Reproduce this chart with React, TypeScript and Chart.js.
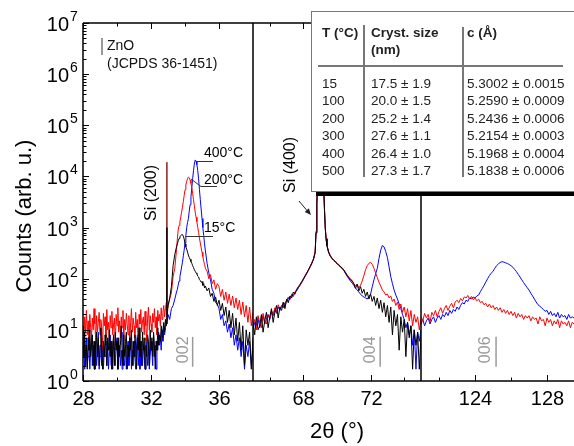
import React, { useEffect, useRef } from 'react';
import { Chart, registerables } from 'chart.js';
Chart.register(...registerables);

const FONT = '"Liberation Sans", Arial, Helvetica, sans-serif';

// ---------- Panel 1 (2θ 28–38) ----------
const P1X = [
  28.0, 28.05, 28.1, 28.15, 28.2, 28.25, 28.3, 28.35, 28.4, 28.45,
  28.5, 28.55, 28.6, 28.65, 28.7, 28.75, 28.8, 28.85, 28.9, 28.95,
  29.0, 29.05, 29.1, 29.15, 29.2, 29.25, 29.3, 29.35, 29.4, 29.45,
  29.5, 29.55, 29.6, 29.65, 29.7, 29.75, 29.8, 29.85, 29.9, 29.95,
  30.0, 30.05, 30.1, 30.15, 30.2, 30.25, 30.3, 30.35, 30.4, 30.45,
  30.5, 30.55, 30.6, 30.65, 30.7, 30.75, 30.8, 30.85, 30.9, 30.95,
  31.0, 31.05, 31.1, 31.15, 31.2, 31.25, 31.3, 31.35, 31.4, 31.45,
  31.5, 31.55, 31.6, 31.65, 31.7, 31.75, 31.8, 31.85, 31.9, 31.95,
  32.0, 32.05, 32.1, 32.15, 32.2, 32.25, 32.3, 32.35, 32.4, 32.45,
  32.5, 32.55, 32.6, 32.65, 32.7, 32.75, 32.8, 32.85, 32.9, 32.95,
  33.0, 33.1, 33.2, 33.3, 33.4,
  33.5, 33.55, 33.6, 33.65, 33.7, 33.75, 33.8, 33.85, 33.9, 33.95,
  34.0, 34.05, 34.1, 34.15, 34.2, 34.25, 34.3, 34.35, 34.4, 34.45,
  34.5, 34.55, 34.6, 34.65, 34.7, 34.75, 34.8, 34.85, 34.9, 34.95,
  35.0, 35.05, 35.1, 35.15, 35.2,
  35.3, 35.4, 35.5, 35.6, 35.7, 35.8, 35.9,
  36.0, 36.1, 36.2, 36.3, 36.4, 36.5, 36.6, 36.7, 36.8, 36.9,
  37.0, 37.1, 37.2, 37.3, 37.4, 37.5, 37.6, 37.7, 37.8, 37.9, 38.0,
];
const BLACK_P1 = [
  6, 3, 9, 2, 5, 1.7, 7, 4, 10, 3,
  5, 8, 2, 6, 1.7, 4, 9, 3, 7, 2,
  5, 11, 4, 1.7, 6, 3, 8, 5, 2, 7,
  4, 10, 3, 6, 1.7, 5, 8, 2, 9, 4,
  6, 1.7, 7, 3, 5, 12, 4, 2, 8, 3,
  6, 9, 1.7, 5, 3, 7, 4, 10, 2, 6,
  3, 8, 5, 1.7, 7, 4, 11, 3, 6, 2,
  9, 4, 7, 1.7, 5, 3, 8, 6, 2, 10,
  4, 7, 3, 9, 5, 1.7, 6, 4, 11, 5,
  8, 6, 12, 7, 10, 14, 9, 16, 12, 18,
  30, 42, 70, 180, 300,
  420, 480, 550, 610, 660, 700, 720, 730, 680, 600,
  480, 420, 380, 330, 290, 260, 240, 215, 200, 180,
  165, 150, 140, 130, 125, 112, 108, 96, 92, 85,
  88, 74, 80, 66, 72,
  58, 66, 45, 52, 36, 44, 30,
  38, 24, 33, 19, 28, 14, 24, 11, 21, 8,
  17, 6, 14, 4, 12, 2, 10, 5, 9, 1.7, 7,
];
const RED_P1 = [
  12, 6, 18, 9, 24, 8, 15, 5, 20, 11,
  7, 17, 10, 26, 13, 6, 19, 9, 14, 22,
  8, 16, 11, 4, 21, 12, 18, 7, 25, 10,
  14, 6, 19, 11, 23, 8, 13, 17, 5, 20,
  12, 27, 9, 15, 7, 18, 11, 24, 6, 16,
  10, 21, 13, 8, 19, 5, 14, 26, 9, 17,
  12, 7, 22, 11, 16, 4, 20, 13, 25, 9,
  15, 18, 8, 23, 12, 6, 17, 28, 10, 19,
  13, 9, 21, 14, 26, 11, 18, 8, 24, 15,
  20, 12, 27, 16, 22, 30, 18, 26, 34, 24,
  28, 40, 53, 110, 160,
  370, 600, 900, 1100, 1300, 1600, 2000, 2500, 3200, 4200,
  5500, 6800, 8000, 9000, 9700, 9400, 8500, 7300, 6000, 4700,
  3500, 2700, 2000, 1600, 1300, 1000, 800, 620, 500, 400,
  330, 270, 220, 190, 160,
  140, 100, 120, 80, 95, 62, 80,
  70, 45, 62, 38, 55, 33, 50, 30, 46, 27,
  42, 25, 38, 20, 35, 18, 30, 14, 28, 12, 22,
];
const BLUE_P1 = [
  3, 5, 1.7, 4, 7, 2, 3, 6, 1.7, 4,
  8, 2, 5, 1.7, 3, 6, 2, 4, 9, 1.7,
  3, 5, 2, 7, 1.7, 4, 3, 6, 2, 5,
  1.7, 4, 8, 2, 3, 1.7, 6, 4, 2, 5,
  7, 1.7, 3, 5, 2, 4, 1.7, 9, 3, 2,
  5, 1.7, 4, 6, 2, 3, 7, 1.7, 4, 2,
  6, 3, 1.7, 5, 8, 2, 4, 1.7, 3, 6,
  2, 5, 3, 1.7, 7, 4, 2, 5, 1.7, 3,
  6, 4, 2, 8, 3, 5, 1.7, 6, 4, 9,
  5, 7, 4, 10, 6, 12, 8, 11, 15, 13,
  20, 16, 26, 30, 40,
  55, 62, 75, 90, 110, 135, 170, 210, 280, 360,
  500, 700, 1000, 1250, 1500, 2100, 2800, 4000, 6000, 9000,
  13000, 17500, 21000, 20000, 17000, 13000, 9000, 5500, 3500, 2300,
  1500, 1000, 700, 480, 350,
  200, 130, 95, 62, 52, 34, 32,
  26, 16, 20, 12, 15, 9, 13, 7, 11, 5,
  8, 4, 7, 3, 6, 1.7, 5, 3, 6, 2, 4,
];
// Si (200) forbidden-reflection spike
const SPIKE_X = [32.92, 32.93, 32.94];
const SPIKE_MAROON = [15, 19000, 15];
const SPIKE_BLACK = [18, 1000, 25];

// ---------- Panel 2 (2θ 65–75) ----------
const P2X = [
  65.0, 65.1, 65.2, 65.3, 65.4, 65.5, 65.6, 65.7, 65.8, 65.9,
  66.0, 66.1, 66.2, 66.3, 66.4, 66.5, 66.6, 66.7, 66.8, 66.9,
  67.0, 67.1, 67.2, 67.3, 67.4, 67.5, 67.6, 67.7, 67.8, 67.9,
  68.0, 68.1, 68.2, 68.3, 68.4, 68.5, 68.6, 68.7,
  68.75, 68.8, 68.85, 68.9, 68.95, 69.0, 69.05, 69.1, 69.15, 69.2, 69.25, 69.3, 69.35, 69.4,
  69.5, 69.6, 69.7, 69.8, 69.9,
  70.0, 70.1, 70.2, 70.3, 70.4, 70.5, 70.6, 70.7, 70.8, 70.9,
  71.0, 71.1, 71.2, 71.3, 71.4, 71.5, 71.6, 71.7, 71.8, 71.9,
  72.0, 72.1, 72.2, 72.3, 72.4, 72.5, 72.6, 72.7, 72.8, 72.9,
  73.0, 73.1, 73.2, 73.3, 73.4, 73.5, 73.6, 73.7, 73.8, 73.9,
  74.0, 74.1, 74.2, 74.3, 74.4, 74.5, 74.6, 74.7, 74.8, 74.9,
  75.0,
];
const BLACK_P2 = [
  14, 8, 18, 10, 12, 20, 9, 15, 22, 11,
  18, 26, 14, 22, 30, 17, 28, 24, 35, 26,
  40, 34, 46, 42, 55, 50, 62, 70, 78, 88,
  100, 115, 130, 150, 175, 200, 240, 330,
  800, 3000, 8000, 20000, 50000, 100000, 120000, 80000, 30000, 8000, 2500, 1000, 600, 450,
  330, 280, 250, 230, 215,
  200, 185, 175, 160, 150, 130, 115, 105, 95, 90,
  80, 65, 78, 58, 70, 52, 62, 45, 55, 40,
  50, 36, 45, 30, 42, 26, 38, 22, 34, 18,
  30, 14, 28, 8, 24, 12, 20, 4, 18, 9,
  16, 3, 14, 7, 12, 1.7, 10, 5, 9, 1.7,
  8,
];
const RED_P2 = [
  12, 16, 10, 19, 14, 11, 21, 15, 13, 19,
  17, 24, 20, 27, 22, 31, 25, 29, 33, 28,
  38, 44, 40, 50, 47, 56, 60, 68, 75, 85,
  98, 112, 128, 148, 170, 205, 245, 340,
  850, 3200, 8500, 21000, 52000, 105000, 125000, 82000, 31000, 8200, 2600, 1050, 620, 460,
  340, 285, 255, 232, 218,
  205, 190, 172, 165, 148, 135, 120, 108, 100, 92,
  80, 72, 78, 66, 75, 90, 115, 150, 180, 200,
  210, 190, 160, 130, 105, 85, 72, 60, 55, 48,
  50, 42, 46, 36, 40, 30, 35, 25, 32, 22,
  28, 18, 26, 15, 24, 12, 20, 14, 18, 10,
  16,
];
const BLUE_P2 = [
  10, 14, 12, 17, 11, 15, 19, 13, 16, 20,
  16, 22, 19, 25, 21, 28, 24, 30, 27, 34,
  36, 42, 39, 48, 45, 54, 58, 66, 74, 84,
  96, 110, 126, 146, 168, 200, 240, 320,
  780, 2900, 7800, 19500, 49000, 98000, 118000, 78000, 29000, 7800, 2400, 980, 590, 440,
  325, 275, 248, 228, 212,
  198, 182, 170, 158, 145, 128, 112, 100, 90, 82,
  74, 66, 60, 55, 50, 46, 44, 42, 40, 45,
  50, 70, 95, 125, 160, 250, 360, 445, 420, 340,
  260, 170, 110, 80, 60, 48, 40, 32, 26, 20,
  16, 11, 14, 8, 12, 5, 10, 1.7, 9, 6,
  10,
];

// ---------- Panel 3 (2θ 121–129.5) ----------
const P3X = [
  121.0, 121.1, 121.2, 121.3, 121.4, 121.5, 121.6, 121.7, 121.8, 121.9,
  122.0, 122.1, 122.2, 122.3, 122.4, 122.5, 122.6, 122.7, 122.8, 122.9,
  123.0, 123.1, 123.2, 123.3, 123.4, 123.5, 123.6, 123.7, 123.8, 123.9,
  124.0, 124.1, 124.2, 124.3, 124.4, 124.5, 124.6, 124.7, 124.8, 124.9,
  125.0, 125.1, 125.2, 125.3, 125.4, 125.5, 125.6, 125.7, 125.8, 125.9,
  126.0, 126.1, 126.2, 126.3, 126.4, 126.5, 126.6, 126.7, 126.8, 126.9,
  127.0, 127.1, 127.2, 127.3, 127.4, 127.5, 127.6, 127.7, 127.8, 127.9,
  128.0, 128.1, 128.2, 128.3, 128.4, 128.5, 128.6, 128.7, 128.8, 128.9,
  129.0, 129.1, 129.2, 129.3, 129.4, 129.5,
];
const RED_P3 = [
  18, 15, 21, 17, 20, 14, 22, 19, 24, 18,
  23, 27, 21, 26, 30, 24, 29, 33, 27, 35,
  38, 34, 41, 37, 44, 42, 47, 40, 45, 39,
  42, 37, 40, 34, 36, 31, 33, 28, 32, 27,
  30, 25, 28, 24, 27, 22, 25, 21, 24, 20,
  23, 19, 22, 17, 21, 18, 20, 16, 19, 17,
  19, 15, 18, 16, 17, 13, 18, 15, 16, 12,
  17, 14, 16, 12, 15, 13, 16, 11, 15, 13,
  14, 12, 15, 11, 14, 13,
];
const BLUE_P3 = [
  13, 16, 12, 15, 17, 13, 16, 18, 14, 17,
  19, 16, 20, 18, 22, 19, 24, 21, 25, 23,
  28, 25, 30, 34, 32, 38, 36, 42, 40, 44,
  42, 46, 48, 56, 64, 74, 86, 100, 115, 128,
  140, 160, 180, 195, 208, 215, 212, 205, 198, 190,
  180, 168, 152, 138, 122, 108, 95, 84, 75, 67,
  60, 52, 46, 40, 35, 31, 29, 27, 25, 23,
  24, 20, 23, 19, 21, 18, 22, 17, 20, 18,
  19, 16, 20, 17, 18, 17,
];

// ZnO JCPDS 36-1451 reference positions
const REF_002 = 34.45;
const REF_004 = 72.57;
const REF_006 = 125.17;
const REF_Y = [1.9, 7.3];

// axis ticks
const P1_MAJOR = [28, 32, 36];
const P1_MINOR = [30, 34];
const P2_MAJOR = [68, 72];
const P2_MINOR = [66, 70, 74];
const P3_MAJOR = [124, 128];
const P3_MINOR = [122, 126];
const Y_DECADES = [0, 1, 2, 3, 4, 5, 6, 7];

// inset table
const TABLE_T = ['15', '100', '200', '300', '400', '500'];
const TABLE_SIZE = ['17.5 ± 1.9', '20.0 ± 1.5', '25.2 ± 1.4', '27.6 ± 1.1', '26.4 ± 1.0', '27.3 ± 1.7'];
const TABLE_C = ['5.3002 ± 0.0015', '5.2590 ± 0.0009', '5.2436 ± 0.0006', '5.2154 ± 0.0003', '5.1968 ± 0.0004', '5.1838 ± 0.0006'];

function pts(xs: number[], ys: number[]) {
  return xs.map((x, i) => ({ x, y: ys[i] }));
}

export default function App() {
  const ref = useRef<HTMLCanvasElement>(null);

  useEffect(() => {
    const canvas = ref.current;
    if (!canvas) return;

    const line = (ctx: CanvasRenderingContext2D, x1: number, y1: number, x2: number, y2: number) => {
      ctx.beginPath();
      ctx.moveTo(x1, y1);
      ctx.lineTo(x2, y2);
      ctx.stroke();
    };
    const rtext = (ctx: CanvasRenderingContext2D, s: string, x: number, y: number, font: string, color: string) => {
      ctx.save();
      ctx.translate(x, y);
      ctx.rotate(-Math.PI / 2);
      ctx.font = font;
      ctx.fillStyle = color;
      ctx.textAlign = 'center';
      ctx.textBaseline = 'middle';
      ctx.fillText(s, 0, 0);
      ctx.restore();
    };

    const annot = {
      id: 'annot',
      afterDraw(chart: any) {
        const { ctx, chartArea: ca } = chart;
        const y = chart.scales.y;
        const x1 = chart.scales.x1;
        const x2 = chart.scales.x2;
        const x3 = chart.scales.x3;
        ctx.save();
        // frame + break dividers
        ctx.strokeStyle = '#000';
        ctx.lineWidth = 1.5;
        ctx.beginPath();
        ctx.moveTo(ca.left, ca.top); ctx.lineTo(ca.right, ca.top);
        ctx.moveTo(ca.left, ca.bottom); ctx.lineTo(ca.right, ca.bottom);
        ctx.moveTo(ca.left, ca.top); ctx.lineTo(ca.left, ca.bottom);
        ctx.moveTo(x1.right, ca.top); ctx.lineTo(x1.right, ca.bottom);
        ctx.moveTo(x2.right, ca.top); ctx.lineTo(x2.right, ca.bottom);
        ctx.stroke();

        // x ticks (inward, top and bottom) + labels
        ctx.lineWidth = 1;
        ctx.fillStyle = '#000';
        ctx.font = `20px ${FONT}`;
        ctx.textAlign = 'center';
        ctx.textBaseline = 'middle';
        const panels: [any, number[], number[]][] = [
          [x1, P1_MAJOR, P1_MINOR],
          [x2, P2_MAJOR, P2_MINOR],
          [x3, P3_MAJOR, P3_MINOR],
        ];
        panels.forEach(([sc, major, minor]) => {
          major.forEach((v) => {
            const px = Math.round(sc.getPixelForValue(v)) + 0.5;
            line(ctx, px, ca.bottom, px, ca.bottom - 6);
            line(ctx, px, ca.top, px, ca.top + 6);
            ctx.fillText(String(v), px, ca.bottom + 18);
          });
          minor.forEach((v) => {
            const px = Math.round(sc.getPixelForValue(v)) + 0.5;
            line(ctx, px, ca.bottom, px, ca.bottom - 3.5);
            line(ctx, px, ca.top, px, ca.top + 3.5);
          });
        });

        // y ticks + labels 10^n
        Y_DECADES.forEach((e) => {
          const py = Math.round(y.getPixelForValue(Math.pow(10, e))) + 0.5;
          line(ctx, ca.left, py, ca.left + 6, py);
          if (e < 7) {
            for (let m = 2; m <= 9; m++) {
              const pm = Math.round(y.getPixelForValue(m * Math.pow(10, e))) + 0.5;
              line(ctx, ca.left, pm, ca.left + 3.5, pm);
            }
          }
          ctx.font = `20px ${FONT}`;
          ctx.textAlign = 'right';
          ctx.textBaseline = 'middle';
          ctx.fillText('10', ca.left - 14, py + 1.5);
          ctx.font = `14px ${FONT}`;
          ctx.textAlign = 'left';
          ctx.fillText(String(e), ca.left - 13, py - 6);
        });

        // axis titles
        rtext(ctx, 'Counts (arb. u.)', 25, 216, `22px ${FONT}`, '#000');
        ctx.font = `22px ${FONT}`;
        ctx.textAlign = 'center';
        ctx.textBaseline = 'middle';
        ctx.fillStyle = '#000';
        ctx.fillText('2θ (°)', (x2.left + x2.right) / 2, 432);

        // ZnO reference legend
        ctx.strokeStyle = '#777';
        ctx.lineWidth = 1.5;
        line(ctx, 102, 38, 102, 55);
        ctx.fillStyle = '#111';
        ctx.font = `14px ${FONT}`;
        ctx.textAlign = 'left';
        ctx.fillText('ZnO', 107, 46);
        ctx.fillText('(JCPDS 36-1451)', 107, 64);

        // reflection labels
        const gy = (y.getPixelForValue(REF_Y[0]) + y.getPixelForValue(REF_Y[1])) / 2 - 2;
        rtext(ctx, '002', x1.getPixelForValue(REF_002) - 9, gy, `16px ${FONT}`, '#999');
        rtext(ctx, '004', x2.getPixelForValue(REF_004) - 10, gy, `16px ${FONT}`, '#999');
        rtext(ctx, '006', x3.getPixelForValue(REF_006) - 10, gy, `16px ${FONT}`, '#999');

        // Si labels
        rtext(ctx, 'Si (200)', 152, 193, `16px ${FONT}`, '#000');
        rtext(ctx, 'Si (400)', 291, 165, `16px ${FONT}`, '#000');
        // arrow to Si(400)
        ctx.strokeStyle = '#222';
        ctx.fillStyle = '#222';
        ctx.lineWidth = 1;
        line(ctx, 299, 201, 309, 213);
        const ang = Math.atan2(215 - 201, 311 - 299);
        ctx.beginPath();
        ctx.moveTo(311, 215);
        ctx.lineTo(311 - 7 * Math.cos(ang - 0.4), 215 - 7 * Math.sin(ang - 0.4));
        ctx.lineTo(311 - 7 * Math.cos(ang + 0.4), 215 - 7 * Math.sin(ang + 0.4));
        ctx.closePath();
        ctx.fill();

        // temperature labels with leader lines
        ctx.strokeStyle = '#333';
        ctx.lineWidth = 1;
        line(ctx, 197, 161.5, 213, 161.5);
        ctx.beginPath();
        ctx.moveTo(191, 179); ctx.lineTo(201, 186.5); ctx.lineTo(217, 186.5);
        ctx.stroke();
        line(ctx, 185, 236.5, 213, 236.5);
        ctx.fillStyle = '#000';
        ctx.font = `14px ${FONT}`;
        ctx.textAlign = 'left';
        ctx.textBaseline = 'middle';
        ctx.fillText('400°C', 204, 153);
        ctx.fillText('200°C', 204, 180);
        ctx.fillText('15°C', 204, 228);
        ctx.restore();
      },
    };

    const mk = (label: string, xs: number[], ys: number[], color: string, axis: string, order: number, width = 1) => ({
      label,
      data: pts(xs, ys),
      borderColor: color,
      backgroundColor: color,
      borderWidth: width,
      pointRadius: 0,
      tension: 0,
      fill: false,
      xAxisID: axis,
      yAxisID: 'y',
      order,
    });

    const xScale = (min: number, max: number, weight: number) => ({
      type: 'linear' as const,
      position: 'bottom' as const,
      stack: 'x',
      stackWeight: weight,
      min,
      max,
      ticks: { display: false },
      grid: { display: false, drawTicks: false },
      border: { display: false },
      afterFit: (s: any) => { s.height = 65; },
    });

    const chart = new Chart(canvas, {
      type: 'line',
      data: {
        datasets: [
          mk('ZnO 002', [REF_002, REF_002], REF_Y, '#9a9a9a', 'x1', -1, 1.5),
          mk('ZnO 004', [REF_004, REF_004], REF_Y, '#9a9a9a', 'x2', -1, 1.5),
          mk('ZnO 006', [REF_006, REF_006], REF_Y, '#9a9a9a', 'x3', -1, 1.5),
          mk('Si200 b', SPIKE_X, SPIKE_BLACK, '#000000', 'x1', 0),
          mk('Si200 m', SPIKE_X, SPIKE_MAROON, '#8b1a1a', 'x1', 3),
          mk('15°C', P1X, BLACK_P1, '#000000', 'x1', 0),
          mk('200°C', P1X, RED_P1, '#ff0000', 'x1', 1),
          mk('400°C', P1X, BLUE_P1, '#0000ff', 'x1', 2),
          mk('15°C p2', P2X, BLACK_P2, '#000000', 'x2', 0),
          mk('200°C p2', P2X, RED_P2, '#ff0000', 'x2', 1),
          mk('400°C p2', P2X, BLUE_P2, '#0000ff', 'x2', 2),
          mk('200°C p3', P3X, RED_P3, '#ff0000', 'x3', 1),
          mk('400°C p3', P3X, BLUE_P3, '#0000ff', 'x3', 2),
        ],
      },
      options: {
        animation: false,
        responsive: false,
        devicePixelRatio: 1,
        layout: { padding: { top: 23, left: 0, right: 0, bottom: 0 } },
        plugins: { legend: { display: false }, tooltip: { enabled: false } },
        scales: {
          y: {
            type: 'logarithmic',
            position: 'left',
            min: 1,
            max: 1e7,
            ticks: { display: false },
            grid: { display: false, drawTicks: false },
            border: { display: false },
            afterFit: (s: any) => { s.width = 83; },
          },
          x1: xScale(28, 38, 170),
          x2: xScale(65, 75, 168),
          x3: xScale(121, 129.5, 153),
        } as any,
      },
      plugins: [annot],
    } as any);

    return () => chart.destroy();
  }, []);

  const cell = (text: string, left: number, top: number, bold = false) => (
    <div
      style={{
        position: 'absolute',
        left,
        top,
        lineHeight: '18px',
        whiteSpace: 'nowrap',
        fontWeight: bold ? 'bold' : 'normal',
      }}
    >
      {text}
    </div>
  );

  return (
    <div style={{ position: 'fixed', left: 0, top: 0, width: 574, height: 446, overflow: 'hidden', background: '#fff' }}>
      <canvas ref={ref} width={574} height={446} style={{ position: 'absolute', left: 0, top: 0, width: 574, height: 446 }} />
      <div
        style={{
          position: 'absolute',
          left: 311,
          top: 11,
          width: 280,
          height: 181,
          boxSizing: 'border-box',
          border: '1px solid #777',
          background: '#fff',
          boxShadow: '5px 4px 0 #000',
          fontFamily: FONT,
          fontSize: 13.5,
          color: '#222',
        }}
      >
        {cell('T (°C)', 10, 12, true)}
        {cell('Cryst. size', 59, 12, true)}
        {cell('(nm)', 59, 29, true)}
        {cell('c (Å)', 155, 12, true)}
        <div style={{ position: 'absolute', left: 51, top: 13, width: 1.5, height: 152, background: '#777' }} />
        <div style={{ position: 'absolute', left: 150, top: 15, width: 1.5, height: 150, background: '#777' }} />
        <div style={{ position: 'absolute', left: 6, top: 53, width: 245, height: 1.5, background: '#777' }} />
        {TABLE_T.map((t, i) => (
          <React.Fragment key={t}>
            {cell(t, 10, 63 + i * 17.4)}
            {cell(TABLE_SIZE[i], 59, 63 + i * 17.4)}
            {cell(TABLE_C[i], 155, 63 + i * 17.4)}
          </React.Fragment>
        ))}
      </div>
    </div>
  );
}
